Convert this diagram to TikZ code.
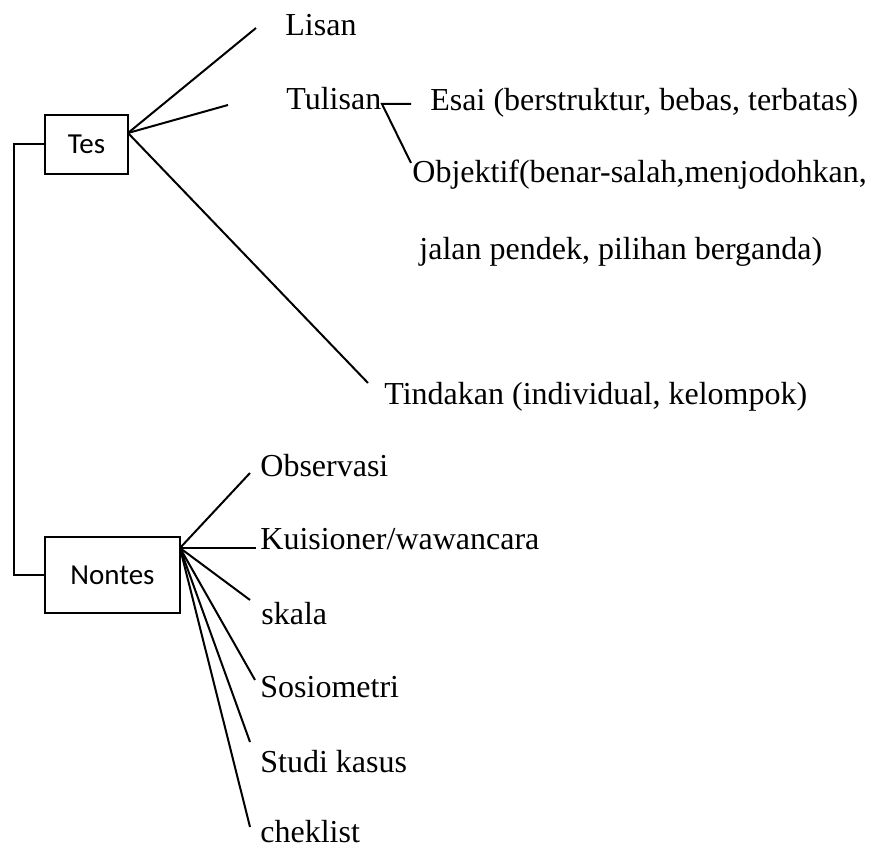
\documentclass[tikz,border=0pt]{standalone}
\usepackage{fontspec}
\setmainfont{Liberation Serif}
\newfontfamily\boxfont{Carlito}
\tikzset{
	kotak/.style={draw, line width=1pt, inner sep=0pt, font=\boxfont\fontsize{14.5}{16}\selectfont},
	teks/.style={anchor=base west, inner sep=0pt, font=\fontsize{16}{19}\selectfont},
	garis/.style={line width=1pt}
}

\begin{document}
\begin{tikzpicture}[x=0.5pt, y=-0.5pt]
		%%%%% START %%%%%
		\useasboundingbox (0,0) rectangle (879,849);
		
		\node[kotak, minimum width=41.5pt, minimum height=29.5pt] (tes) at (86.5,144.5) {Tes};
		\node[kotak, minimum width=67.5pt, minimum height=38pt] (nontes) at (112.5,575) {Nontes};
		
		\draw[garis] (tes.west) -- ++(-30,0) |- (nontes.west);
		
		\coordinate (tesR) at (128,133);
		\coordinate (nontesR) at (180,548);
		
		\node[teks] (lisan) at (285,36) {Lisan};
		\node[teks] (tulisan) at (286,110) {Tulisan};
		\node[teks] (esai) at (430,111) {Esai (berstruktur, bebas, terbatas)};
		\node[teks] (objektif) at (412,183) {Objektif(benar-salah,menjodohkan,};
		\node[teks] (jalan) at (419,260) {jalan pendek, pilihan berganda)};
		\node[teks] (tindakan) at (384,405) {Tindakan (individual, kelompok)};
		
		\coordinate (eLisan) at (256,28);
		\coordinate (eTulisan) at (228,105);
		\coordinate (eTindakan) at (368,383);
		\draw[garis] (tesR) -- (eLisan);
		\draw[garis] (tesR) -- (eTulisan);
		\draw[garis] (tesR) -- (eTindakan);
		
		\coordinate (tulisanR) at (382,104);
		\coordinate (eEsai) at (411,104);
		\coordinate (eObjektif) at (411,163);
		\draw[garis] (eEsai) -- (tulisanR) -- (eObjektif);
		
		\node[teks] (observasi) at (260,477) {Observasi};
		\node[teks] (kuisioner) at (260,550) {Kuisioner/wawancara};
		\node[teks] (skala) at (261,625) {skala};
		\node[teks] (sosiometri) at (260,698) {Sosiometri};
		\node[teks] (studi) at (260,773) {Studi kasus};
		\node[teks] (cheklist) at (260,843) {cheklist};
		
		\coordinate (eObservasi) at (250,473);
		\coordinate (eKuisioner) at (256,548);
		\coordinate (eSkala) at (250,600);
		\coordinate (eSosiometri) at (255,680);
		\coordinate (eStudi) at (250,742);
		\coordinate (eCheklist) at (250,827);
		\draw[garis] (nontesR) -- (eObservasi);
		\draw[garis] (nontesR) -- (eKuisioner);
		\draw[garis] (nontesR) -- (eSkala);
		\draw[garis] (nontesR) -- (eSosiometri);
		\draw[garis] (nontesR) -- (eStudi);
		\draw[garis] (nontesR) -- (eCheklist);
		
		%%%%% END %%%%%
\end{tikzpicture}
\end{document}
